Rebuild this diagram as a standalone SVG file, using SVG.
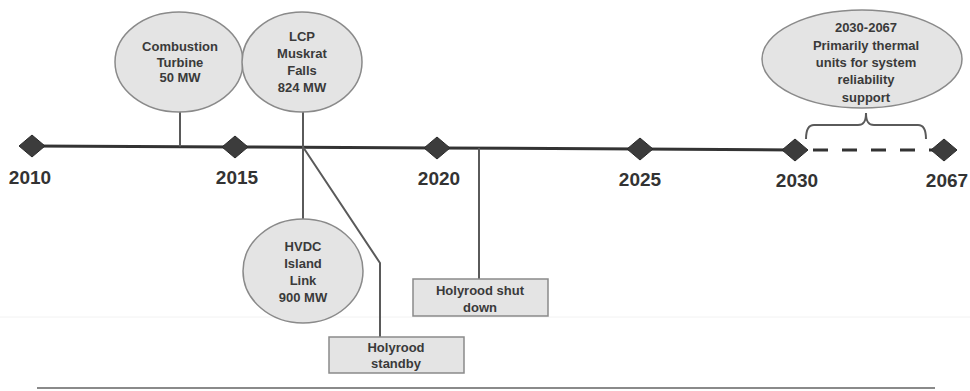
<svg xmlns="http://www.w3.org/2000/svg" width="970" height="391" viewBox="0 0 970 391">
<style>
.bg{fill:#ffffff}
.bubble{fill:#e4e4e4;stroke:#8a8a8a;stroke-width:1.5}
.box{fill:#e4e4e4;stroke:#8a8a8a;stroke-width:1.5}
.lbl{font-family:"Liberation Sans",Arial,sans-serif;font-weight:bold;font-size:13px;fill:#3a3a3a;text-anchor:middle}
.yr{font-family:"Liberation Sans",Arial,sans-serif;font-weight:bold;font-size:19px;fill:#333333;text-anchor:middle}
.axis{stroke:#333333;stroke-width:3;fill:none}
.dash{stroke:#333333;stroke-width:3;fill:none;stroke-dasharray:15 14}
.stem{stroke:#5a5a5a;stroke-width:2;fill:none}
.dia{fill:#3c3c3c;stroke:#2a2a2a;stroke-width:1}
</style>
<rect class="bg" x="0" y="0" width="970" height="391"/>
<line x1="0" y1="317" x2="970" y2="317" stroke="#f2f2f2" stroke-width="1"/>
<line x1="37" y1="388" x2="935" y2="388" stroke="#8a8a8a" stroke-width="2"/>

<g id="connectors">
  <polyline class="axis" points="32,146 235,147 437,148 640,149 795,150"/>
  <line class="dash" x1="808" y1="150" x2="944" y2="150" stroke-dashoffset="-5"/>
  <line class="stem" x1="180" y1="112" x2="180" y2="146.5"/>
  <line class="stem" x1="303" y1="112" x2="303" y2="219"/>
  <polyline class="stem" points="303,147 380,263 380,337"/>
  <line class="stem" x1="479" y1="148" x2="479" y2="279"/>
  <path class="stem" stroke-width="1.6" d="M806,139 C806,130 808,125 814,125 L858,125 C864,125 866,121 866,113 C866,121 868,125 874,125 L918,125 C924,125 926,130 926,139"/>
</g>

<g id="timeline-markers">
  <polygon class="dia" points="32,135 45,146 32,157 19,146"/>
  <polygon class="dia" points="235,136 248,147 235,158 222,147"/>
  <polygon class="dia" points="437,137 450,148 437,159 424,148"/>
  <polygon class="dia" points="640,138 653,149 640,160 627,149"/>
  <polygon class="dia" points="795,139 808,150 795,161 782,150"/>
  <polygon class="dia" points="944,139 957,150 944,161 931,150"/>
  <text class="yr" x="30" y="184">2010</text>
  <text class="yr" x="237" y="184">2015</text>
  <text class="yr" x="439" y="185">2020</text>
  <text class="yr" x="640" y="186">2025</text>
  <text class="yr" x="797" y="187">2030</text>
  <text class="yr" x="947" y="187">2067</text>
</g>

<g id="combustion-turbine">
  <ellipse class="bubble" cx="179" cy="62" rx="64" ry="50"/>
  <text class="lbl" x="180" y="51">Combustion</text>
  <text class="lbl" x="180" y="67">Turbine</text>
  <text class="lbl" x="180" y="82">50 MW</text>
</g>

<g id="lcp-muskrat-falls">
  <ellipse class="bubble" cx="302" cy="62" rx="60" ry="50"/>
  <text class="lbl" x="302" y="41">LCP</text>
  <text class="lbl" x="302" y="58">Muskrat</text>
  <text class="lbl" x="302" y="75">Falls</text>
  <text class="lbl" x="302" y="92">824 MW</text>
</g>

<g id="hvdc-island-link">
  <ellipse class="bubble" cx="303" cy="271" rx="60" ry="52"/>
  <text class="lbl" x="303" y="251">HVDC</text>
  <text class="lbl" x="303" y="268">Island</text>
  <text class="lbl" x="303" y="285">Link</text>
  <text class="lbl" x="303" y="302">900 MW</text>
</g>

<g id="holyrood-standby">
  <rect class="box" x="329" y="337" width="135" height="36"/>
  <text class="lbl" x="396" y="351.5">Holyrood</text>
  <text class="lbl" x="396" y="367.5">standby</text>
</g>

<g id="holyrood-shut-down">
  <rect class="box" x="413" y="279" width="135" height="37"/>
  <text class="lbl" x="480" y="294.5">Holyrood shut</text>
  <text class="lbl" x="480" y="311.5">down</text>
</g>

<g id="thermal-2030-2067">
  <ellipse class="bubble" cx="862" cy="59" rx="100" ry="49"/>
  <text class="lbl" x="866" y="31.5">2030-2067</text>
  <text class="lbl" x="866" y="49.5">Primarily thermal</text>
  <text class="lbl" x="866" y="66.5">units for system</text>
  <text class="lbl" x="866" y="83.5">reliability</text>
  <text class="lbl" x="866" y="101.5">support</text>
</g>
</svg>
